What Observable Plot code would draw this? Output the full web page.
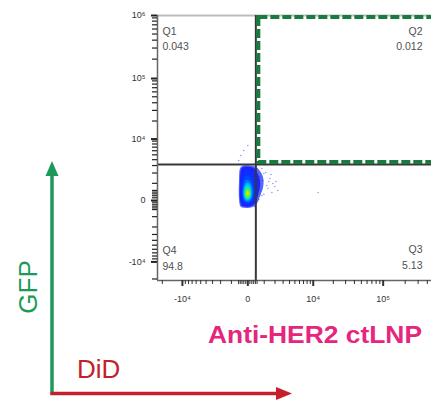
<!DOCTYPE html>
<html><head><meta charset="utf-8">
<script src="https://cdn.jsdelivr.net/npm/d3@7"></script>
<script src="https://cdn.jsdelivr.net/npm/@observablehq/plot@0.6"></script>
<style>
html,body{margin:0;padding:0;background:#fff;overflow:hidden;}
#chart{position:relative;width:431px;height:401px;overflow:hidden;}
</style></head><body><div id="chart"></div>
<script>
// ---- labels ----
const xLabel = "DiD";
const yLabel = "GFP";
const sampleLabel = "Anti-HER2 ctLNP";
const quadNames = ["Q1", "Q2", "Q3", "Q4"];
const quadValues = ["0.043", "0.012", "5.13", "94.8"];

// ---- scale domains & gates (fluorescence units) ----
const xDomain = [-23475, 455800];
const yDomain = [-20800, 1000000];
const gateX = 426;
const gateY = 3244;

// ---- ticks ----
const xMajorTicks = [-10000, 0, 10000, 100000];
const xMajorLabels = ["-10⁴", "0", "10⁴", "10⁵"];
const xMinorTicks = [-20000, -9000, -8000, -7000, -6000, -5000, -4000, -3000, -2000, -1000,
  -500, -400, -300, -200, -100, 100, 200, 300, 400, 500,
  1000, 2000, 3000, 4000, 5000, 6000, 7000, 8000, 9000,
  20000, 30000, 40000, 50000, 60000, 70000, 80000, 90000, 200000, 300000, 400000];
const yMajorTicks = [-10000, 0, 10000, 100000, 1000000];
const yMajorLabels = ["-10⁴", "0", "10⁴", "10⁵", "10⁶"];
const yMinorTicks = [-20000, -9000, -8000, -7000, -6000, -5000, -4000, -3000, -2000, -1000,
  -500, -400, -300, -200, -100, 100, 200, 300, 400, 500,
  1000, 2000, 3000, 4000, 5000, 6000, 7000, 8000, 9000,
  20000, 30000, 40000, 50000, 60000, 70000, 80000, 90000,
  200000, 300000, 400000, 500000, 600000, 700000, 800000, 900000];

// ---- binned event counts (relative) on a DiD x GFP grid ----
const binX = [-426, -309, -147, 0, 147, 309, 487, 682, 897, 1133];
const binY = [3085, 2642, 2245, 1889, 1570, 1283, 1027, 797, 590, 405, 239, 90, -44, -188, -348];
const binCounts = [
  [0, 0, 0, 0, 0, 0, 0, 0, 0, 0],
  [0, 0.5, 0.8, 0.9, 0.7, 0.4, 0.2, 0, 0, 0],
  [0, 0.8, 1.1, 1.2, 1.0, 0.6, 0.3, 0.15, 0, 0],
  [0, 1.0, 1.4, 1.6, 1.3, 0.8, 0.45, 0.2, 0.1, 0],
  [0, 1.1, 1.8, 2.1, 1.7, 1.0, 0.55, 0.3, 0.12, 0],
  [0, 1.2, 2.3, 2.7, 2.1, 1.2, 0.65, 0.35, 0.15, 0],
  [0, 1.3, 2.9, 3.4, 2.6, 1.4, 0.7, 0.35, 0.15, 0],
  [0, 1.4, 3.4, 4.1, 3.1, 1.5, 0.7, 0.35, 0.12, 0],
  [0, 1.5, 3.9, 5.0, 3.5, 1.5, 0.65, 0.3, 0.1, 0],
  [0, 1.5, 4.3, 6.2, 3.8, 1.5, 0.55, 0.2, 0, 0],
  [0, 1.5, 4.2, 6.0, 3.6, 1.4, 0.45, 0.15, 0, 0],
  [0, 1.3, 3.5, 4.4, 3.0, 1.1, 0.3, 0, 0, 0],
  [0, 1.0, 2.3, 2.8, 1.9, 0.7, 0.2, 0, 0, 0],
  [0, 0.5, 1.0, 1.2, 0.8, 0.3, 0, 0, 0, 0],
  [0, 0, 0, 0, 0, 0, 0, 0, 0, 0]
];
const densityLevels = [0.12, 0.35, 1.0, 1.7, 2.4, 3.0, 3.5, 4.0, 4.6, 5.2, 5.6, 6.0];
const densityColors = ["#5566ff", "#1a24ff", "#0d30ff", "#0048ff", "#0078ff", "#00b0ff", "#00e0d0", "#30f070", "#a0f000", "#ffe000", "#ff8000", "#ff1000"];

// ---- sparse single events ----
const dotX = [1483, 1987, 1133, 823, -367, -200, -487, 2330, 1675, 1302, 11870, 0, 2099, 973, -367, 367, 1578,
  682, 897, 1216, 752, 973, 1391, 487, 615, 1776, 823];
const dotY = [1471, 797, 2122, 2642, 4963, 6192, 3939, 526, 405, 657, 405, 7667, 1195, 293, -239, -293, 1889,
  1672, 1283, 870, 526, 2003, 1195, 188, 44, 1027, 239];

const events = [];
binY.forEach((y, r) => binX.forEach((x, c) => events.push({x, y, w: binCounts[r][c]})));
const singles = dotX.map((x, i) => ({x, y: dotY[i]}));
const gateRect = [{x1: gateX, x2: 5000000, y1: gateY, y2: yDomain[1]}];
const quadText = [
  {t: quadNames[0] + "\n" + quadValues[0], anchor: "top-left", ta: "start", la: "top", dx: 5, dy: 8},
  {t: quadNames[1] + "\n" + quadValues[1], anchor: "top-right", ta: "end", la: "top", dx: -9, dy: 8},
  {t: quadNames[2] + "\n" + quadValues[2], anchor: "bottom-right", ta: "end", la: "bottom", dx: -9, dy: -12},
  {t: quadNames[3] + "\n" + quadValues[3], anchor: "bottom-left", ta: "start", la: "bottom", dx: 5, dy: -11}
];

const fmt = (ticks, labels) => d => labels[ticks.indexOf(d)];
const font = "'Liberation Sans', Arial, sans-serif";

const svg = Plot.plot({
  width: 431,
  height: 401,
  marginLeft: 157,
  marginRight: 0,
  marginTop: 15,
  marginBottom: 121,
  style: {fontFamily: font, background: "white", overflow: "hidden"},
  x: {type: "symlog", constant: 1500, domain: xDomain, range: [157, 431]},
  y: {type: "symlog", constant: 1200, domain: yDomain, range: [280, 15]},
  color: {type: "linear", domain: densityLevels, range: densityColors},
  marks: [
    Plot.contour(events, {x: "x", y: "y", fill: "w", interpolate: "barycentric", thresholds: densityLevels, pixelSize: 1, blur: 0.5, stroke: null}),
    Plot.dot(singles, {x: "x", y: "y", r: 0.7, fill: "#2a40ff", fillOpacity: 0.6}),
    Plot.ruleY([yDomain[1]], {stroke: "#bdbdbd", strokeWidth: 2}),
    Plot.ruleX([gateX], {stroke: "#383838", strokeWidth: 2}),
    Plot.ruleY([gateY], {stroke: "#383838", strokeWidth: 2}),
    Plot.rect(gateRect, {x1: "x1", x2: "x2", y1: "y1", y2: "y2", fill: "none", stroke: "#1b7a40", strokeWidth: 4, strokeDasharray: "9,3", insetLeft: 3, insetBottom: 2, insetTop: 2}),
    Plot.ruleX([xDomain[0]], {stroke: "#666", strokeWidth: 1.5}),
    Plot.ruleY([yDomain[0]], {stroke: "#666", strokeWidth: 1.5}),
    Plot.axisY(yMajorTicks, {anchor: "left", tickSize: 6, tickPadding: 6, tickFormat: fmt(yMajorTicks, yMajorLabels), fontSize: 9, fill: "#333", stroke: "#222", strokeWidth: 2}),
    Plot.axisX(xMinorTicks, {anchor: "bottom", tickSize: 4, tickFormat: () => "", stroke: "#333", strokeWidth: 1}),
    Plot.axisX(xMajorTicks, {anchor: "bottom", tickSize: 6, tickPadding: 9, tickFormat: fmt(xMajorTicks, xMajorLabels), fontSize: 9, fill: "#333", stroke: "#333", strokeWidth: 2}),
    ...quadText.map(q => Plot.text([q.t], {frameAnchor: q.anchor, textAnchor: q.ta, lineAnchor: q.la, dx: q.dx, dy: q.dy, fontSize: 10.5, lineHeight: 1.5, fill: "#505050"}))
  ]
});
document.getElementById("chart").appendChild(svg);

const s = d3.select(svg);
// ---- minor y ticks through the plot's own y scale ----
const yScale = svg.scale("y");
s.append("g").attr("stroke", "#222").attr("stroke-width", 1.2)
  .selectAll("line").data(yMinorTicks).join("line")
  .attr("x1", 152).attr("x2", 157)
  .attr("y1", d => yScale.apply(d)).attr("y2", d => yScale.apply(d));

// ---- channel arrows and labels ----
const green = "#1e9a58", red = "#c61e2a", pink = "#e6267c";
s.append("line").attr("x1", 52).attr("y1", 395).attr("x2", 52).attr("y2", 174).attr("stroke", green).attr("stroke-width", 3.5);
s.append("polygon").attr("points", "52,161 45.5,176 58.5,176").attr("fill", green);
s.append("line").attr("x1", 50.5).attr("y1", 393.5).attr("x2", 277).attr("y2", 393.5).attr("stroke", red).attr("stroke-width", 3.5);
s.append("polygon").attr("points", "292,393.5 276,387 276,400").attr("fill", red);
s.append("text").attr("transform", "translate(37,287) rotate(-90)").attr("text-anchor", "middle")
  .attr("font-size", 26).attr("fill", green).attr("font-family", font).text(yLabel);
s.append("text").attr("x", 77).attr("y", 378).attr("text-anchor", "start").attr("font-size", 26).attr("fill", red)
  .attr("font-family", font).text(xLabel);
s.append("text").attr("x", 208).attr("y", 343).attr("text-anchor", "start").attr("font-size", 24).attr("font-weight", "bold").attr("fill", pink)
  .attr("textLength", 214).attr("lengthAdjust", "spacingAndGlyphs")
  .attr("font-family", font).text(sampleLabel);
</script></body></html>
